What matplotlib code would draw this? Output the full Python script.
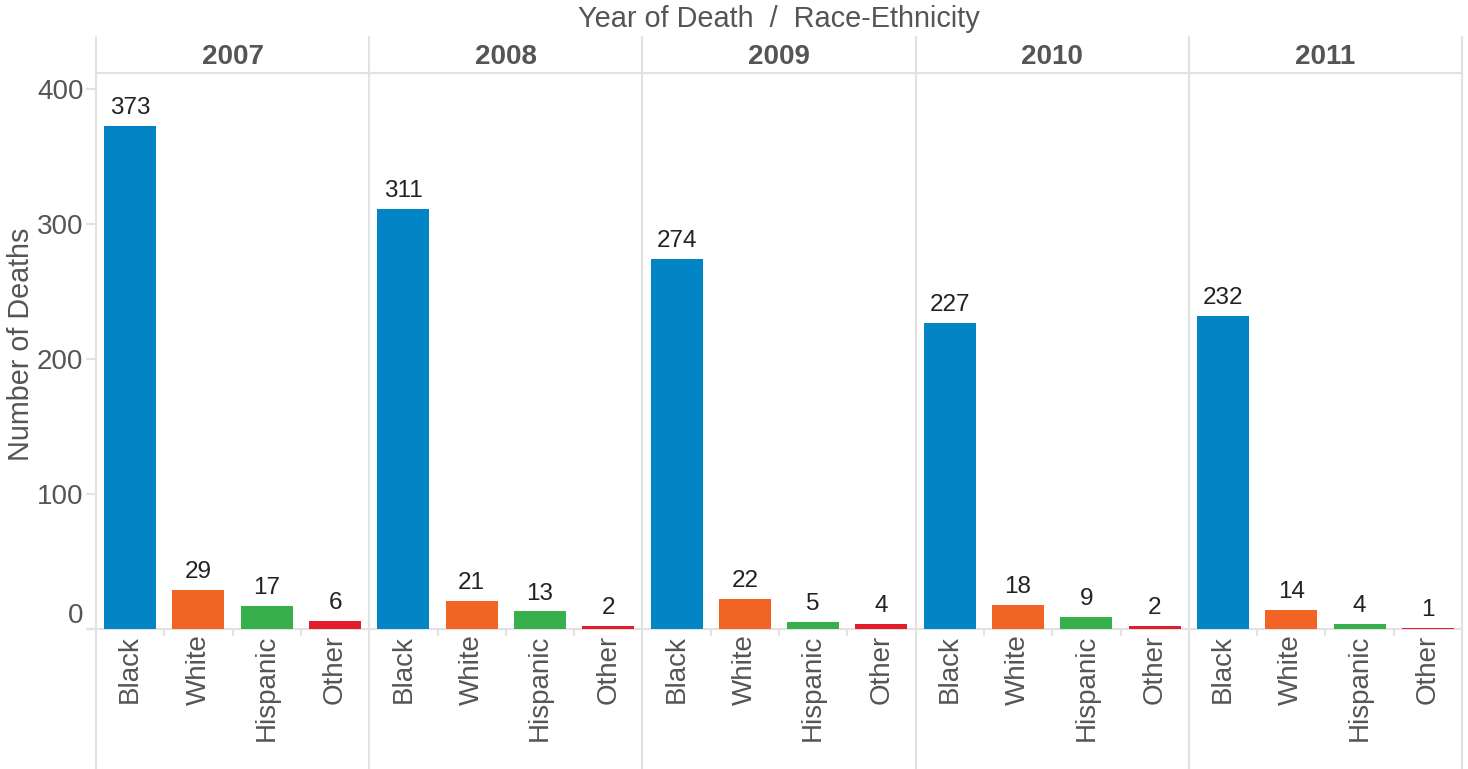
import matplotlib
matplotlib.use("Agg")
import matplotlib.pyplot as plt
import numpy as np

plt.rcParams['font.family'] = ['Liberation Sans', 'DejaVu Sans']

# Deaths by year of death and race-ethnicity
years = ['2007', '2008', '2009', '2010', '2011']
races = ['Black', 'White', 'Hispanic', 'Other']
black = [373, 311, 274, 227, 232]
white = [29, 21, 22, 18, 14]
hispanic = [17, 13, 5, 9, 4]
other = [6, 2, 4, 2, 1]

race_colors = ['#0384c4', '#f26424', '#37b04b', '#e31d2b']
grid_col = '#e2e2e2'
text_grey = '#555555'

W, H = 1468, 769
fig = plt.figure(figsize=(W / 100, H / 100), dpi=100)
left, right, top, bottom = 96, 1462, 73, 629
ax = fig.add_axes([left / W, (H - bottom) / H, (right - left) / W, (bottom - top) / H])

series = [black, white, hispanic, other]
n_races = len(races)
n_years = len(years)
for r, (vals, col) in enumerate(zip(series, race_colors)):
    xs = np.arange(n_years) * n_races + r + 0.5
    ax.bar(xs, vals, width=0.76, color=col, zorder=3)
    for x, v in zip(xs, vals):
        ax.annotate(str(v), (x, v), xytext=(0, 5), textcoords='offset points',
                    ha='center', va='bottom', fontsize=17.5, color='#222222')

ax.set_xlim(0, n_years * n_races)
ax.set_ylim(0, 412)

for s in ax.spines.values():
    s.set_visible(False)

# Panel separators running through header and category labels
top_ext = (bottom - 37) / (bottom - top)
bot_ext = (bottom - H) / (bottom - top)
for k in range(n_years + 1):
    ax.axvline(k * n_races, ymin=bot_ext, ymax=top_ext, color=grid_col,
               lw=1.5, clip_on=False, zorder=1)
# header bottom rule and zero baseline
ax.axhline(412, color=grid_col, lw=1.5, clip_on=False, zorder=1)
ax.axhline(0, xmin=(88 - left) / (right - left), xmax=1, color=grid_col,
           lw=1.5, clip_on=False, zorder=2)

# Year headers
for k, yr in enumerate(years):
    ax.text(k * n_races + n_races / 2, 1.0 + 16 / (bottom - top), yr,
            transform=ax.get_xaxis_transform(), ha='center', va='center',
            fontsize=20, fontweight='bold', color=text_grey)

# Category tick labels
centers = np.arange(n_years * n_races) + 0.5
ax.set_xticks(centers)
ax.set_xticklabels(races * n_years, rotation=90, fontsize=20, color=text_grey)
ax.tick_params(axis='x', which='major', length=0, pad=4)
minor = [k * n_races + r for k in range(n_years) for r in range(1, n_races)]
ax.set_xticks(minor, minor=True)
ax.tick_params(axis='x', which='minor', length=5, width=1.5, color=grid_col)

# Value axis
ax.set_yticks([0, 100, 200, 300, 400])
ax.tick_params(axis='y', length=7, width=1.5, color=grid_col, labelsize=20,
               labelcolor=text_grey, pad=2)
ax.yaxis.get_major_ticks()[0].label1.set_verticalalignment('bottom')

fig.text(21 / W, 1 - 344 / H, 'Number of Deaths', rotation=90, ha='center',
         va='center', fontsize=20.7, color=text_grey)
fig.text((left + right) / 2 / W, 1 - 27 / H, 'Year of Death  /  Race-Ethnicity',
         ha='center', va='baseline', fontsize=20.8, color=text_grey)

fig.savefig('out.png', dpi=100)
